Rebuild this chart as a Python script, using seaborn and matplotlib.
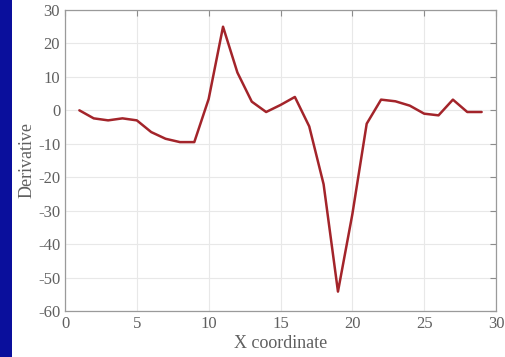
import seaborn as sns
import matplotlib.pyplot as plt
import pandas as pd

x_coord = list(range(1, 30))
derivative = [0.0, -2.4, -3.0, -2.4, -3.0, -6.5, -8.5, -9.5, -9.5, 3.4,
              25.0, 11.3, 2.6, -0.5, 1.6, 4.0, -4.8, -22.1, -54.2, -31.1,
              -4.0, 3.2, 2.7, 1.4, -1.0, -1.5, 3.2, -0.5, -0.5]
x_ticks = [0, 5, 10, 15, 20, 25, 30]
y_ticks = [-60, -50, -40, -30, -20, -10, 0, 10, 20, 30]

df = pd.DataFrame({'x': x_coord, 'd': derivative})

sns.set_style('white')
plt.rcParams['font.family'] = ['Liberation Serif', 'DejaVu Serif']
plt.rcParams['axes.unicode_minus'] = False

fig = plt.figure(figsize=(5.06, 3.57), dpi=100)

# bit of the neighbouring heatmap that was cropped in on the left
strip = fig.add_axes([0, 0, 12 / 506, 1])
strip.set_facecolor('#0a0f9c')
strip.set_xticks([])
strip.set_yticks([])
for s in strip.spines.values():
    s.set_visible(False)

ax = fig.add_axes([65 / 506, 46 / 357, 431 / 506, 301 / 357])
sns.lineplot(data=df, x='x', y='d', ax=ax, color='#a3242a', linewidth=1.8)

ax.set_xlim(0, 30)
ax.set_ylim(-60, 30)
ax.set_xticks(x_ticks)
ax.set_yticks(y_ticks)
ax.grid(True, color='#e8e8e8', linewidth=0.8)
ax.set_axisbelow(True)
ax.tick_params(direction='in', length=4, top=True, right=True,
               colors='#8c8c8c', labelcolor='#606060', labelsize=12, width=0.8)
for s in ax.spines.values():
    s.set_color('#9a9a9a')
    s.set_linewidth(0.9)
ax.set_xlabel('X coordinate', fontsize=13, color='#606060', labelpad=2)
ax.set_ylabel('Derivative', fontsize=13, color='#606060', labelpad=2)

fig.savefig('out.png', dpi=100)
